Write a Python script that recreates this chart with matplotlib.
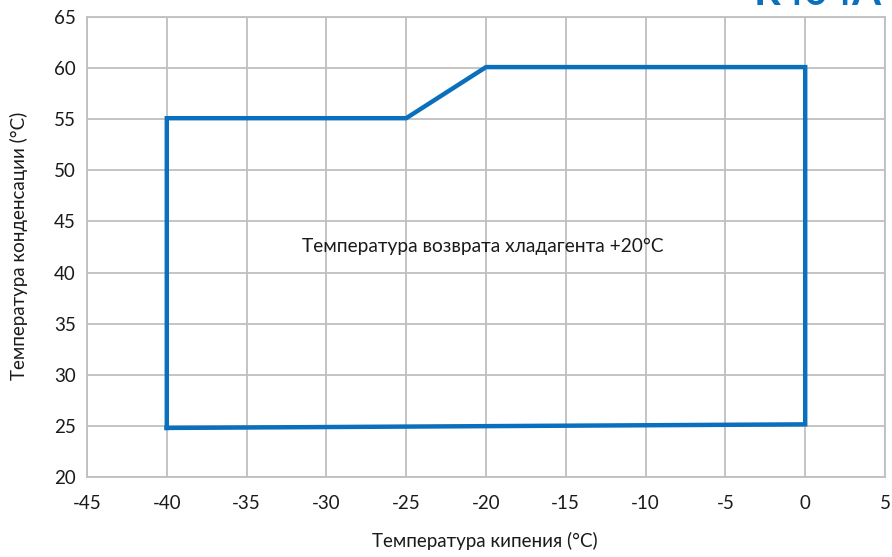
import matplotlib.pyplot as plt

# envelope of operating limits, R404A
evap_temp = [-40, -40, -25, -20, 0, 0, -40]
cond_temp = [24.8, 55.1, 55.1, 60.1, 60.1, 25.15, 24.8]

x_ticks = [-45, -40, -35, -30, -25, -20, -15, -10, -5, 0, 5]
y_ticks = [20, 25, 30, 35, 40, 45, 50, 55, 60, 65]

plt.rcParams['font.family'] = ['Lato', 'DejaVu Sans']
plt.rcParams['axes.unicode_minus'] = False

fig = plt.figure(figsize=(8.92, 5.57), dpi=100)
ax = fig.add_axes([87 / 892, 1 - 477 / 557, (885 - 87) / 892, (477 - 17) / 557])

ax.plot(evap_temp, cond_temp, color='#0a70be', linewidth=3.2, solid_joinstyle='miter', zorder=3)

ax.set_xlim(-45, 5)
ax.set_ylim(20, 65)
ax.set_xticks(x_ticks)
ax.set_yticks(y_ticks)
ax.grid(True, color='#bfbfbf', linewidth=1.3)
ax.tick_params(length=0, labelsize=13.5, colors='#1a1a1a')
ax.tick_params(axis='x', pad=13)
ax.tick_params(axis='y', pad=8)
for s in ax.spines.values():
    s.set_color('#bfbfbf')
    s.set_linewidth(1.3)

ax.text(-20.2, 42.6, 'Температура возврата хладагента +20°C', ha='center', va='center',
        fontsize=13.8, color='#1a1a1a')

fig.text(485 / 892, 1 - 541 / 557, 'Температура кипения (°C)', ha='center', va='center',
         fontsize=13.5, color='#1a1a1a')
fig.text(19 / 892, 1 - 246 / 557, 'Температура конденсации (°C)', ha='center', va='center',
         rotation=90, fontsize=13.5, color='#1a1a1a')

fig.text(882 / 892, 1 - 5 / 557, 'R404A', ha='right', va='baseline', fontsize=30,
         fontweight='bold', color='#0a70be')

fig.savefig('out.png', dpi=100)
